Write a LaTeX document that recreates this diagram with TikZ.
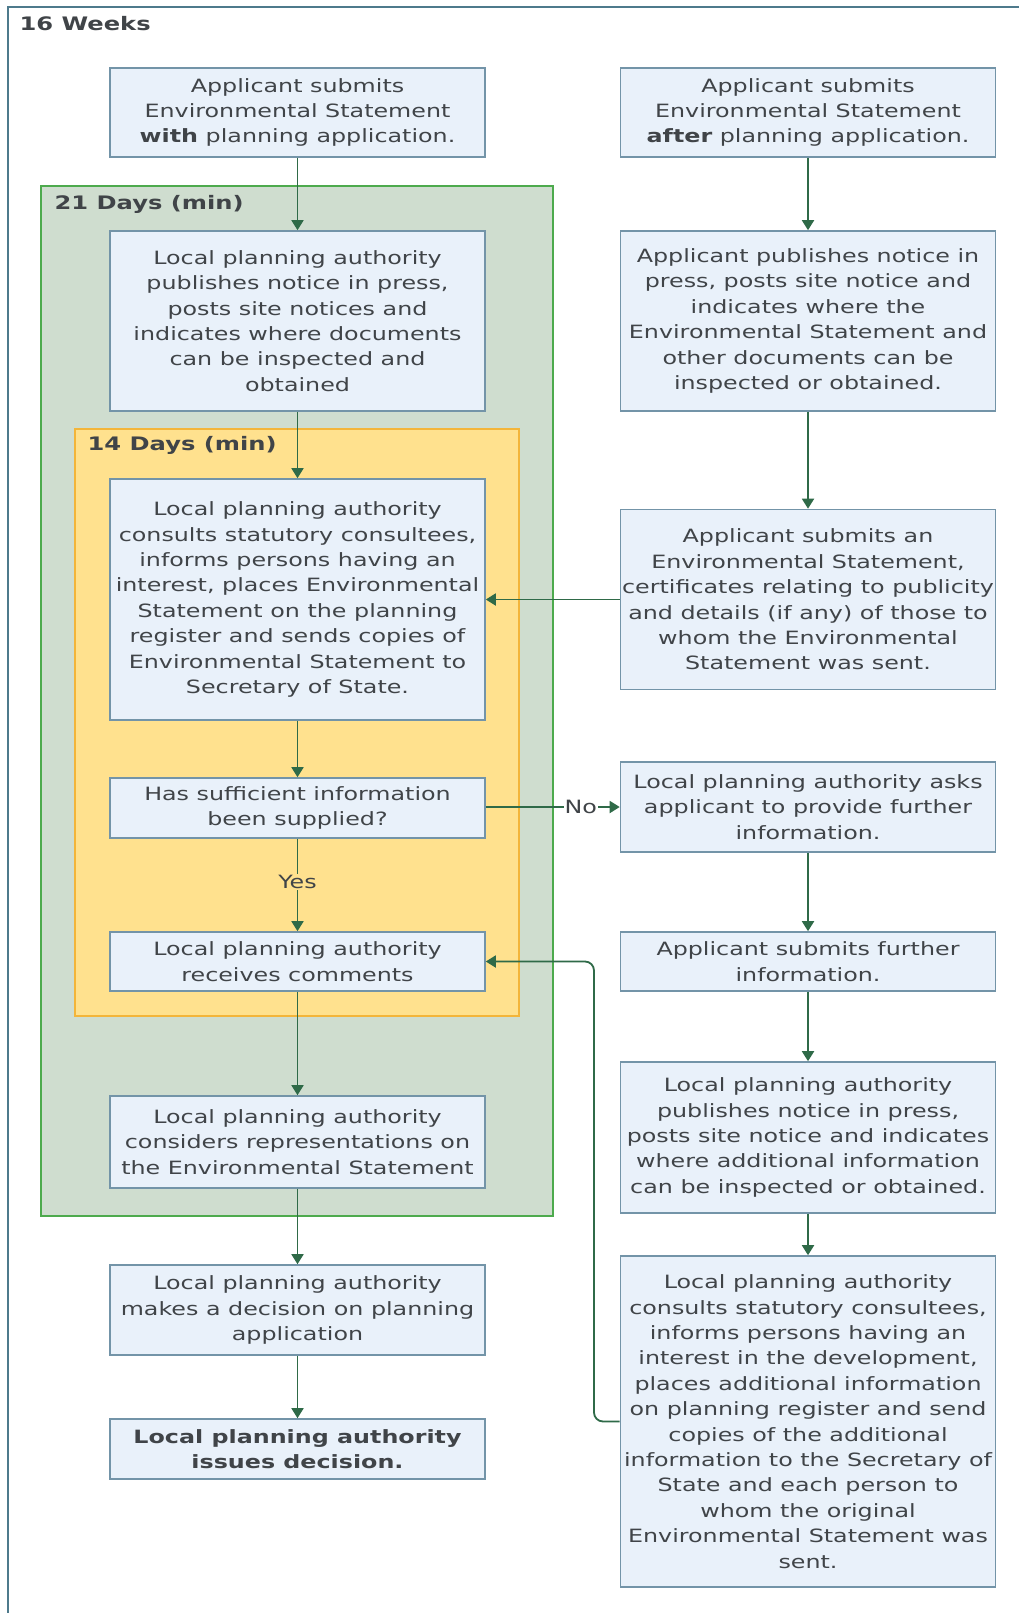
\documentclass[tikz,border=0pt]{standalone}
\usepackage{fontspec}
\setmainfont{DejaVu Sans}[FakeStretch=1.3]
\usetikzlibrary{arrows.meta}
\definecolor{boxfill}{HTML}{E9F1FA}
\definecolor{boxline}{HTML}{7394A8}
\definecolor{txt}{HTML}{404448}
\definecolor{greenfill}{HTML}{CFDDCF}
\definecolor{greenline}{HTML}{4DAA4D}
\definecolor{yelfill}{HTML}{FFE18E}
\definecolor{yelline}{HTML}{F3B53A}
\definecolor{arrowc}{HTML}{2F6A48}
\definecolor{frame}{HTML}{4E7A8C}
\begin{document}
\begin{tikzpicture}[x=1pt,y=-1pt,
  box/.style={draw=boxline, line width=1.6pt, fill=boxfill, align=center, text=txt,
    inner sep=0pt, minimum width=375pt, font=\fontsize{18.3}{25.4}\selectfont},
  conn/.style={draw=arrowc, line width=1.8pt, -{Triangle[width=12pt,length=10pt]}},
  lbl/.style={anchor=west, text=txt, font=\fontsize{18.6}{22}\selectfont\bfseries},
  edgelbl/.style={text=txt, inner sep=1pt, font=\fontsize{18.3}{22}\selectfont}]
\useasboundingbox (0,0) rectangle (1019,1613);
\fill[white] (0,0) rectangle (1019,1613);
% outer frame
\draw[frame, line width=2.2pt] (8,1620) -- (8,7) -- (1030,7);
\node[lbl] (t16) at (16,24) {16 Weeks};
% green and yellow regions
\draw[greenline, fill=greenfill, line width=2pt] (41,186) rectangle (553,1216);
\node[lbl] (t21) at (51,204) {21 Days (min)};
\draw[yelline, fill=yelfill, line width=2pt] (75,429) rectangle (519,1016);
\node[lbl] (t14) at (84,445) {14 Days (min)};
% left column
\node[box, minimum height=89pt] (a1) at (297.5,112.5) {Applicant submits\\Environmental Statement\\\textbf{with} planning application.};
\node[box, minimum height=180pt] (a2) at (297.5,321) {Local planning authority\\publishes notice in press,\\posts site notices and\\indicates where documents\\can be inspected and\\obtained};
\node[box, minimum height=241pt] (a3) at (297.5,599.5) {Local planning authority\\consults statutory consultees,\\informs persons having an\\interest, places Environmental\\Statement on the planning\\register and sends copies of\\Environmental Statement to\\Secretary of State.};
\node[box, minimum height=60pt] (a4) at (297.5,808) {Has sufficient information\\been supplied?};
\node[box, minimum height=59pt] (a5) at (297.5,961.5) {Local planning authority\\receives comments};
\node[box, minimum height=92pt] (a6) at (297.5,1142) {Local planning authority\\considers representations on\\the Environmental Statement};
\node[box, minimum height=90pt] (a7) at (297.5,1310) {Local planning authority\\makes a decision on planning\\application};
\node[box, minimum height=60pt] (a8) at (297.5,1449) {\textbf{Local planning authority}\\\textbf{issues decision.}};
% right column
\node[box, minimum height=89pt] (b1) at (808,112.5) {Applicant submits\\Environmental Statement\\\textbf{after} planning application.};
\node[box, minimum height=180pt] (b2) at (808,321) {Applicant publishes notice in\\press, posts site notice and\\indicates where the\\Environmental Statement and\\other documents can be\\inspected or obtained.};
\node[box, minimum height=180pt] (b3) at (808,599.5) {Applicant submits an\\Environmental Statement,\\certificates relating to publicity\\and details (if any) of those to\\whom the Environmental\\Statement was sent.};
\node[box, minimum height=90pt] (b4) at (808,807) {Local planning authority asks\\applicant to provide further\\information.};
\node[box, minimum height=59pt] (b5) at (808,961.5) {Applicant submits further\\information.};
\node[box, minimum height=151pt] (b6) at (808,1137.5) {Local planning authority\\publishes notice in press,\\posts site notice and indicates\\where additional information\\can be inspected or obtained.};
\node[box, minimum height=331pt] (b7) at (808,1421.5) {Local planning authority\\consults statutory consultees,\\informs persons having an\\interest in the development,\\places additional information\\on planning register and send\\copies of the additional\\information to the Secretary of\\State and each person to\\whom the original\\Environmental Statement was\\sent.};
% connectors
\draw[conn] (a1) -- (a2);
\draw[conn] (a2) -- (a3);
\draw[conn] (a3) -- (a4);
\draw[conn] (a4) -- node[edgelbl, fill=yelfill, pos=0.47] (yes) {Yes} (a5);
\draw[conn] (a5) -- (a6);
\draw[conn] (a6) -- (a7);
\draw[conn] (a7) -- (a8);
\draw[conn] (b1) -- (b2);
\draw[conn] (b2) -- (b3);
\draw[conn] (b3) -- (a3);
\draw[conn] (a4.east |- b4) -- node[edgelbl, fill=white, pos=0.71] (no) {No} (b4.west);
\draw[conn] (b4) -- (b5);
\draw[conn] (b5) -- (b6);
\draw[conn] (b6) -- (b7);
\coordinate (fb) at (594,1421.5);
\draw[conn, rounded corners=9pt] (b7.west |- fb) -- (fb) |- (a5.east);
\end{tikzpicture}
\end{document}
